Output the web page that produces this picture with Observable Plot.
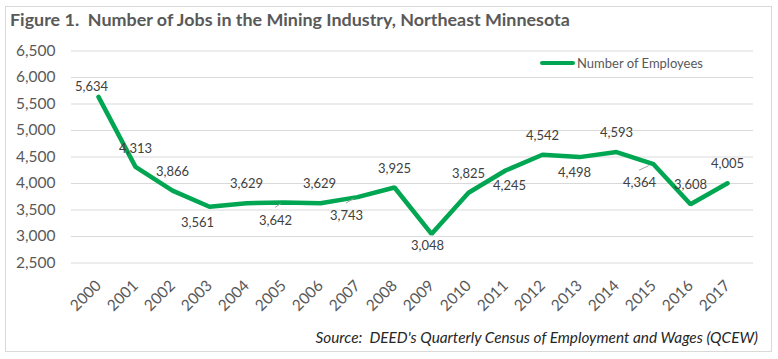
<!DOCTYPE html>
<html>
<head>
<meta charset="utf-8">
<script src="https://cdn.jsdelivr.net/npm/d3@7"></script>
<script src="https://cdn.jsdelivr.net/npm/@observablehq/plot@0.6"></script>
<style>
  body { margin: 0; background: #fff; }
  #wrap { position: relative; width: 778px; height: 359px; overflow: hidden; font-family: Lato, "Open Sans", sans-serif; }
  #frame { position: absolute; left: 5px; top: 6px; width: 765px; height: 344px; border: 1px solid #d9d9d9; }
  #chart { position: absolute; left: 0; top: 0; }
  #title { position: absolute; left: 10px; top: 9px; font-weight: bold; font-size: 17.9px; line-height: 21.6px; color: #595959; white-space: nowrap; }
  #legend { position: absolute; left: 540px; top: 53px; height: 19px; display: flex; align-items: center; font-size: 13px; color: #595959; white-space: nowrap; }
  #legend .sw { width: 35px; height: 4px; border-radius: 2px; background: #00a651; margin-right: 2px; }
  #source { position: absolute; right: 20px; top: 327px; line-height: 20px; font-style: italic; font-size: 15.35px; color: #262626; white-space: nowrap; }
</style>
</head>
<body>
<div id="wrap">
  <div id="frame"></div>
  <div id="chart"></div>
  <div id="title">Figure 1.&nbsp; Number of Jobs in the Mining Industry, Northeast Minnesota</div>
  <div id="legend"><span class="sw"></span><span>Number of Employees</span></div>
  <div id="source">Source:&nbsp; DEED's Quarterly Census of Employment and Wages (QCEW)</div>
</div>
<script>
const years = ["2000","2001","2002","2003","2004","2005","2006","2007","2008","2009","2010","2011","2012","2013","2014","2015","2016","2017"];
const employees = [5634,4313,3866,3561,3629,3642,3629,3743,3925,3048,3825,4245,4542,4498,4593,4364,3608,4005];
const yTicks = [2500,3000,3500,4000,4500,5000,5500,6000,6500];

// label placement (pixel offsets from each point), layout only
const labelOffsets = [[-7,-10],[0,-18],[0,-19],[-12,16],[0,-19],[-8,18],[-1,-19],[-11,19],[0,-19],[-4,12],[0,-19],[4,15],[0,-19],[-5,16],[0,-19],[-14,19],[0,-19.5],[0,-19]];
const leaderYears = ["2005","2007","2015"];

const green = "#00a651";
const fmt = d3.format(",");
const data = years.map((year, i) => ({year, value: employees[i]}));

const labelMarks = data.map((d, i) => Plot.text([d], {
  x: "year", y: "value", text: r => fmt(r.value),
  dx: labelOffsets[i][0], dy: labelOffsets[i][1],
  fontSize: 13, fill: "#404040", fontFamily: "Lato, 'Open Sans', sans-serif"
}));

const plot = Plot.plot({
  width: 778,
  height: 320,
  marginLeft: 71,
  marginRight: 25,
  marginTop: 50.5,
  marginBottom: 57.5,
  style: {background: "transparent", fontFamily: "Lato, 'Open Sans', sans-serif"},
  x: {type: "point", domain: years, padding: 0.5, label: null},
  y: {domain: [2500, 6500], label: null},
  marks: [
    Plot.gridY(yTicks, {stroke: "#d9d9d9", strokeOpacity: 1, strokeWidth: 1}),
    Plot.axisY(yTicks, {tickSize: 0, tickPadding: 16, tickFormat: fmt, fontSize: 15.5, color: "#595959", label: null}),
    Plot.axisX({tickSize: 0, tickRotate: -45, tickPadding: 20, fontSize: 15.5, color: "#595959", label: null}),
    Plot.line(data, {x: "year", y: "value", stroke: green, strokeWidth: 4.5, strokeLinejoin: "miter"}),
    ...labelMarks
  ]
});
document.getElementById("chart").appendChild(plot);

// leader lines for a few displaced labels, positioned via the plot's scales
const sx = plot.scale("x"), sy = plot.scale("y");
const svg = d3.select(plot);
leaderYears.forEach(yr => {
  const i = years.indexOf(yr);
  const px = sx.apply(yr), py = sy.apply(employees[i]);
  const [dx, dy] = labelOffsets[i];
  const x1 = px + dx, y1 = py + dy - 12.5;
  svg.append("line")
    .attr("x1", x1).attr("y1", y1)
    .attr("x2", px + dx * 0.3).attr("y2", py + (dy - 12.5) * 0.3)
    .attr("stroke", "#a6a6a6").attr("stroke-width", 1);
});
</script>
</body>
</html>
